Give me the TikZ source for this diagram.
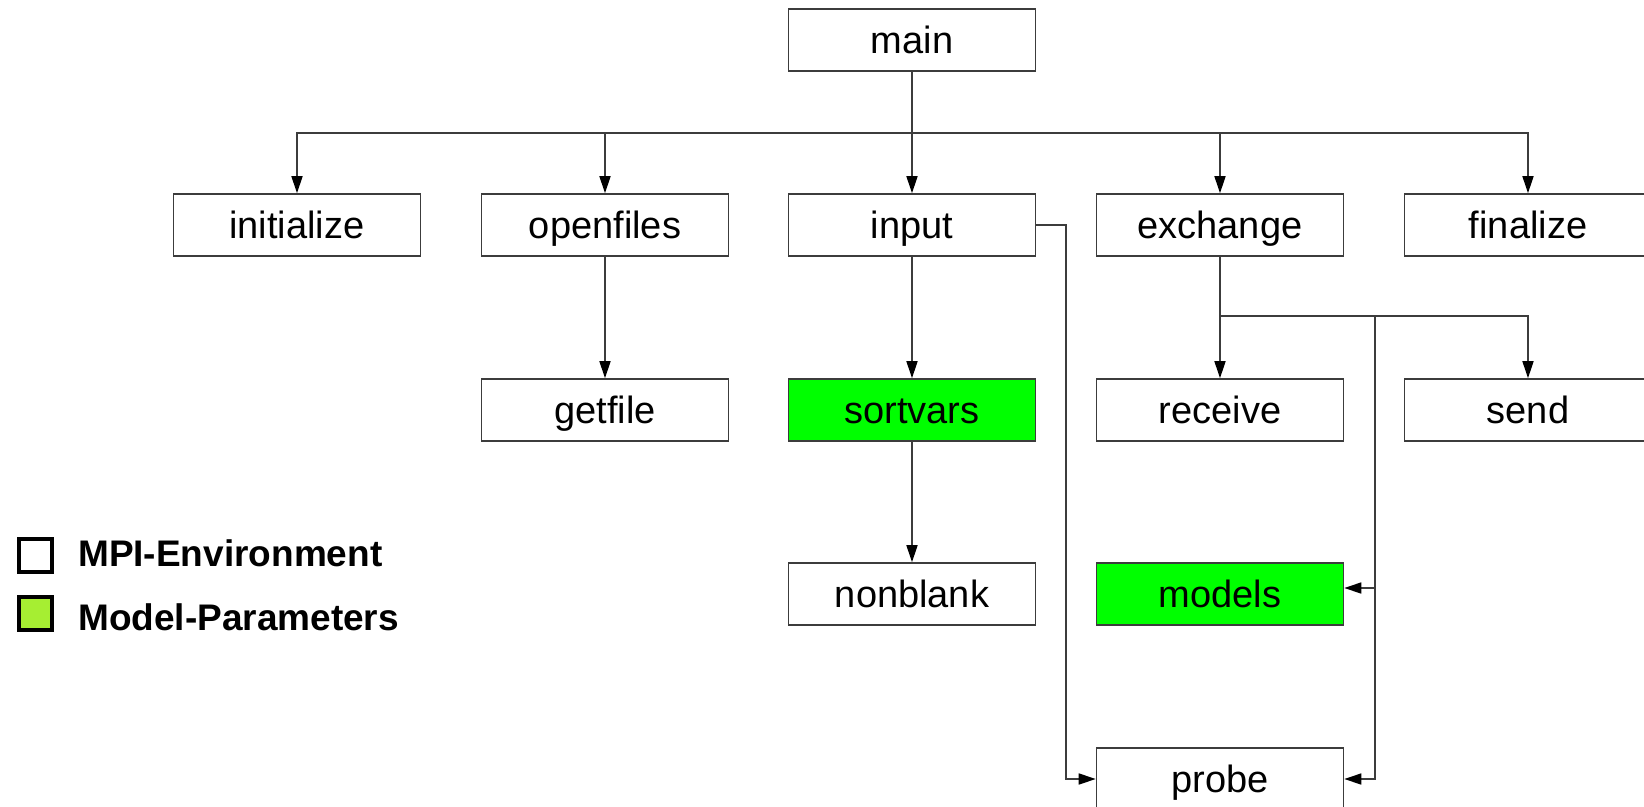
\documentclass[tikz,border=0pt]{standalone}
\usepackage{fontspec}
\setmainfont{Liberation Sans}
\usetikzlibrary{arrows.meta}
\definecolor{edgegray}{RGB}{60,60,60}
\definecolor{boxgreen}{RGB}{0,255,0}
\definecolor{leggreen}{RGB}{166,238,50}
\tikzset{
  fn/.style={rectangle, draw=edgegray, line width=1.6pt, fill=white,
    minimum width=247pt, minimum height=62pt, inner sep=0pt,
    text height=31pt, text depth=4pt,
    font=\fontsize{38pt}{44pt}\selectfont},
  fngreen/.style={fn, fill=boxgreen},
  conn/.style={draw=edgegray, line width=1.6pt},
  arr/.style={conn, -{Triangle[length=17pt,width=11pt,color=black,fill=black]}},
  legbox/.style={rectangle, draw=black, line width=4pt, minimum width=33pt, minimum height=33pt, inner sep=0pt},
  legtext/.style={anchor=base west, inner sep=0pt, font=\fontsize{37pt}{42pt}\selectfont\bfseries}
}
\begin{document}
\begin{tikzpicture}[x=1pt,y=-1pt]
\useasboundingbox (0,0) rectangle (1644,806);
\clip (0,0) rectangle (1644,806);
\fill[white] (0,0) rectangle (1644,806);

% nodes
\node[fn] (main) at (912,40) {main};
\node[fn] (initialize) at (297,225) {initialize};
\node[fn] (openfiles) at (605,225) {openfiles};
\node[fn] (input) at (912,225) {input};
\node[fn] (exchange) at (1220,225) {exchange};
\node[fn] (finalize) at (1528,225) {finalize};
\node[fn] (getfile) at (605,410) {getfile};
\node[fngreen] (sortvars) at (912,410) {sortvars};
\node[fn] (receive) at (1220,410) {receive};
\node[fn] (send) at (1528,410) {send};
\node[fn] (nonblank) at (912,594) {nonblank};
\node[fngreen] (models) at (1220,594) {models};
\node[fn] (probe) at (1220,779) {probe};

% main bus
\coordinate (bus) at (912,133);
\draw[conn] (main.south) -- (bus);
\draw[arr] (bus) -| (initialize.north);
\draw[arr] (bus) -| (openfiles.north);
\draw[arr] (bus) -- (input.north);
\draw[arr] (bus) -| (exchange.north);
\draw[arr] (bus) -| (finalize.north);

% vertical calls
\draw[arr] (openfiles.south) -- (getfile.north);
\draw[arr] (input.south) -- (sortvars.north);
\draw[arr] (sortvars.south) -- (nonblank.north);

% input -> probe
\coordinate (ip) at (1066,225);
\draw[arr] (input.east) -- (ip) |- (probe.west);

% exchange bus
\coordinate (ebus) at (1220,316);
\coordinate (ev) at (1375,316);
\coordinate (ma) at (1375,588);
\draw[conn] (exchange.south) -- (ebus);
\draw[arr] (ebus) -- (receive.north);
\draw[arr] (ebus) -| (send.north);
\draw[arr] (ev) |- (probe.east);
\draw[arr] (ma) -- (models.east |- ma);

% legend
\node[legbox, fill=white] (leg1) at (35,555) {};
\node[legbox, fill=leggreen] (leg2) at (35,613.5) {};
\node[legtext] (leg1t) at (78,566.5) {MPI-Environment};
\node[legtext] (leg2t) at (78,630) {Model-Parameters};
\end{tikzpicture}
\end{document}
